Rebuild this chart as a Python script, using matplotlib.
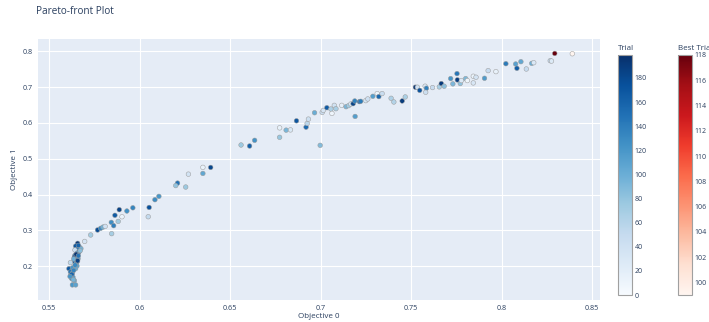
import numpy as np
import matplotlib.pyplot as plt
from matplotlib import cm, colors

plt.rcParams['font.family'] = ['Open Sans', 'DejaVu Sans']

# objective values and trial numbers of the non-best trials
obj0 = [
    # dense group at the lower left
    0.5658, 0.5647, 0.5669, 0.5676, 0.5654, 0.5643, 0.5665, 0.5654, 0.5643, 0.5654,
    0.5640, 0.5660, 0.5646, 0.5640, 0.5654, 0.5650, 0.5654, 0.5618, 0.5610, 0.5629,
    0.5647, 0.5618, 0.5629, 0.5620, 0.5632, 0.5625, 0.5640, 0.5629, 0.5647, 0.5662,
    0.5672, 0.5650, 0.5662, 0.5636, 0.5658, 0.5644, 0.5636, 0.5626, 0.5616, 0.5634,
    # rising part
    0.5697, 0.5730, 0.5768, 0.5785, 0.5798, 0.5810, 0.5844, 0.5857, 0.5882, 0.5846,
    0.5864, 0.5903, 0.5888, 0.5930, 0.5963, 0.6053, 0.6048, 0.6085, 0.6107, 0.6210,
    0.6200, 0.6255, 0.6270, 0.6350, 0.6350, 0.6393,
    # middle
    0.6561, 0.6608, 0.6636, 0.6774, 0.6774, 0.6810, 0.6834, 0.6867, 0.6920, 0.6926,
    0.6933, 0.6967, 0.6998, 0.7009, 0.7015, 0.7035, 0.7057, 0.7063, 0.7076, 0.7085,
    0.7117, 0.7141, 0.7155, 0.7167, 0.7180, 0.7189, 0.7191, 0.7215, 0.7222, 0.7250,
    0.7261, 0.7289, 0.7313, 0.7322, 0.7340, 0.7390, 0.7405, 0.7451, 0.7468, 0.7524,
    0.7535, 0.7548, 0.7578, 0.7585, 0.7581,
    # upper right
    0.7619, 0.7656, 0.7667, 0.7683, 0.7719, 0.7731, 0.7754, 0.7756, 0.7772, 0.7778,
    0.7802, 0.7811, 0.7844, 0.7859, 0.7844, 0.7906, 0.7926, 0.7969, 0.8024, 0.8078,
    0.8085, 0.8107, 0.8137, 0.8167, 0.8178, 0.8269, 0.8276,
]
obj1 = [
    0.2637, 0.2560, 0.2526, 0.2490, 0.2470, 0.2450, 0.2395, 0.2360, 0.2300, 0.2265,
    0.2250, 0.2210, 0.2170, 0.2135, 0.2117, 0.2060, 0.2005, 0.2098, 0.1930, 0.1950,
    0.1930, 0.1838, 0.1800, 0.1744, 0.1690, 0.1652, 0.1596, 0.1475, 0.1475, 0.2580,
    0.2430, 0.2330, 0.2290, 0.2200, 0.2150, 0.2030, 0.1880, 0.1770, 0.1710, 0.1620,
    0.2690, 0.2870, 0.3010, 0.3056, 0.3090, 0.3110, 0.3223, 0.3130, 0.3250, 0.2907,
    0.3420, 0.3380, 0.3577, 0.3540, 0.3630, 0.3640, 0.3380, 0.3856, 0.3950, 0.4320,
    0.4250, 0.4210, 0.4570, 0.4760, 0.4590, 0.4758,
    0.5385, 0.5357, 0.5516, 0.5864, 0.5600, 0.5800, 0.5807, 0.6060, 0.5883, 0.5986,
    0.6108, 0.6286, 0.5376, 0.6296, 0.6352, 0.6427, 0.6390, 0.6268, 0.6493, 0.6399,
    0.6493, 0.6455, 0.6484, 0.6530, 0.6540, 0.6615, 0.6183, 0.6596, 0.6606, 0.6624,
    0.6671, 0.6746, 0.6822, 0.6737, 0.6822, 0.6690, 0.6587, 0.6615, 0.6728, 0.7000,
    0.7000, 0.6912, 0.7028, 0.6972, 0.6859,
    0.6990, 0.7009, 0.7102, 0.7028, 0.7241, 0.7093, 0.7380, 0.7204, 0.7102, 0.7185,
    0.7241, 0.7185, 0.7306, 0.7278, 0.7120, 0.7250, 0.7463, 0.7435, 0.7657, 0.7648,
    0.7528, 0.7713, 0.7509, 0.7667, 0.7685, 0.7741, 0.7731,
]
trial = [
    192, 171, 128, 96, 140, 45, 183, 117, 133, 156,
    176, 112, 149, 163, 124, 137, 108, 55, 168, 121,
    102, 144, 131, 152, 115, 126, 104, 119, 110, 160,
    85, 195, 146, 98, 187, 130, 135, 158, 122, 94,
    35, 72, 178, 132, 97, 40, 127, 139, 74, 70,
    166, 12, 185, 125, 134, 174, 52, 129, 120, 150,
    80, 76, 38, 14, 106, 181,
    76, 162, 123, 16, 78, 92, 30, 170, 154, 56,
    42, 101, 88, 46, 34, 165, 66, 9, 39, 68,
    18, 93, 73, 36, 184, 136, 114, 167, 141, 33,
    43, 113, 11, 157, 47, 64, 62, 189, 67, 193,
    41, 172, 31, 138, 44,
    48, 69, 190, 83, 120, 91, 145, 188, 82, 28,
    90, 8, 13, 37, 32, 116, 49, 15, 142, 111,
    164, 105, 50, 100, 29, 51, 27,
]

# best trials
best_obj0 = [0.8294, 0.8391]
best_obj1 = [0.7944, 0.7935]
best_trial = [118, 99]

x_ticks = [0.55, 0.6, 0.65, 0.7, 0.75, 0.8, 0.85]
y_ticks = [0.2, 0.3, 0.4, 0.5, 0.6, 0.7, 0.8]
trial_ticks = list(range(0, 181, 20))
best_ticks = list(range(100, 119, 2))

text_color = '#2a3f5f'
W, H = 709, 322

fig = plt.figure(figsize=(W / 100, H / 100), dpi=100)
fig.patch.set_facecolor('white')

ax_h = 261
ax = fig.add_axes([38 / W, (H - 299.5) / H, 562 / W, ax_h / H])
ax.set_facecolor('#E5ECF6')
for s in ax.spines.values():
    s.set_visible(False)
ax.set_xlim(0.5439, 0.8544)
ax.set_ylim(0.1067, 0.8361)
ax.set_xticks(x_ticks)
ax.set_yticks(y_ticks)
ax.set_xticklabels([f"{v:g}" for v in x_ticks])
ax.set_yticklabels([f"{v:g}" for v in y_ticks])
ax.tick_params(length=0, labelsize=5.2, labelcolor=text_color, pad=4)
ax.grid(True, color='white', linewidth=0.8)
ax.set_axisbelow(True)
ax.set_xlabel("Objective 0", fontsize=5.8, color=text_color)
ax.set_ylabel("Objective 1", fontsize=5.8, color=text_color)
ax.xaxis.set_label_coords(0.5, -17 / ax_h)
ax.yaxis.set_label_coords(-24 / 562, 0.5)
ax.xaxis.label.set_va('center')
ax.yaxis.label.set_va('center')

trial_norm = colors.Normalize(vmin=0, vmax=199)
best_norm = colors.Normalize(vmin=99, vmax=118)

ax.scatter(obj0, obj1, c=trial, cmap='Blues', norm=trial_norm, s=11,
           edgecolors='#9a9a9a', linewidths=0.35, zorder=3)
ax.scatter(best_obj0, best_obj1, c=best_trial, cmap='Reds', norm=best_norm, s=11,
           edgecolors='#9a9a9a', linewidths=0.35, zorder=4)

fig.text(36 / W, 1 - 11 / H, "Pareto-front Plot", fontsize=7.2, color=text_color,
         va='center', ha='left')

# colorbars
def add_bar(x0, cmap, norm, ticks, title):
    cax = fig.add_axes([x0 / W, (H - 295) / H, 14 / W, 240 / H])
    cb = fig.colorbar(cm.ScalarMappable(norm=norm, cmap=cmap), cax=cax)
    cb.set_ticks(ticks)
    cb.ax.tick_params(length=0, pad=2, labelsize=5, labelcolor=text_color)
    cb.outline.set_edgecolor('#a0a0a0')
    cb.outline.set_linewidth(0.8)
    fig.text(x0 / W, 1 - 48 / H, title, fontsize=5.8, color=text_color,
             ha='left', va='center')

add_bar(618, 'Blues', trial_norm, trial_ticks, "Trial")
add_bar(678, 'Reds', best_norm, best_ticks, "Best Trial")

fig.savefig("out.png", dpi=100)
